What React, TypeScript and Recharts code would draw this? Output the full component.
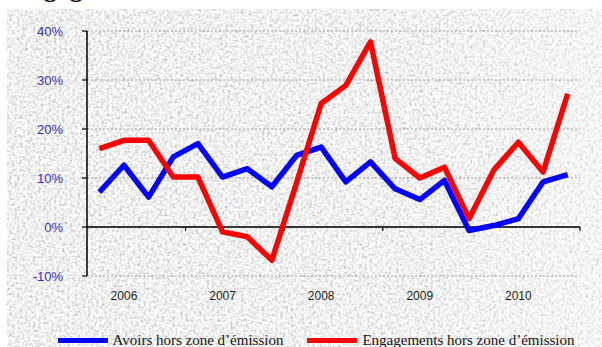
import React from 'react';
import { LineChart, Line, XAxis, YAxis, CartesianGrid, ReferenceLine, Legend } from 'recharts';

const WIDTH = 602;
const HEIGHT = 347;

// Quarterly observations, 2006 to 2010
const quarters = [
  '2006 T1', '2006 T2', '2006 T3', '2006 T4',
  '2007 T1', '2007 T2', '2007 T3', '2007 T4',
  '2008 T1', '2008 T2', '2008 T3', '2008 T4',
  '2009 T1', '2009 T2', '2009 T3', '2009 T4',
  '2010 T1', '2010 T2', '2010 T3', '2010 T4',
];
const years = ['2006', '2007', '2008', '2009', '2010'];

// Year-on-year growth rates, in %
const avoirs = [7.1, 12.6, 6.1, 14.3, 17.0, 10.2, 11.9, 8.2, 14.6, 16.3, 9.2, 13.3, 7.8, 5.6, 9.5, -0.7, 0.3, 1.7, 9.2, 10.7];
const engagements = [16.0, 17.7, 17.7, 10.2, 10.2, -1.0, -2.0, -6.8, 9.0, 25.2, 28.9, 37.8, 14.0, 10.0, 12.2, 1.7, 11.6, 17.3, 11.2, 27.2];

const yTicks = [-10, 0, 10, 20, 30, 40];

const SERIES_AVOIRS = 'Avoirs hors zone d’émission';
const SERIES_ENGAGEMENTS = 'Engagements hors zone d’émission';

const PER_YEAR = 4;

// Numeric x: quarter i sits in the middle of slot [i, i+1]
const data = quarters.map((q, i) => ({
  q,
  x: i + 0.5,
  avoirs: avoirs[i],
  engagements: engagements[i],
}));

// Year boundaries on the zero line, and year labels under the second quarter
const yearBoundaries = years.map((_, i) => (i + 1) * PER_YEAR);
const yearLabelTicks = years.map((_, i) => i * PER_YEAR + 1.5);

const LegendContent = (props: any) => {
  const payload = props.payload || [];
  return (
    <div
      style={{
        display: 'flex',
        justifyContent: 'center',
        alignItems: 'center',
        gap: 24,
        fontFamily: '"Liberation Serif", "Times New Roman", serif',
        fontSize: 15,
        color: '#151515',
        whiteSpace: 'nowrap',
      }}
    >
      {payload.map((p: any) => (
        <span key={p.value} style={{ display: 'flex', alignItems: 'center' }}>
          <span style={{ display: 'inline-block', width: 50, height: 5, background: p.color, marginRight: 5 }} />
          {p.value}
        </span>
      ))}
    </div>
  );
};

// Mottled grey paper behind the chart
const Backdrop = () => (
  <svg width={WIDTH - 7} height={HEIGHT - 9} style={{ position: 'absolute', left: 7, top: 9 }}>
    <defs>
      <filter id="grain" x="0" y="0" width="100%" height="100%">
        <feTurbulence type="fractalNoise" baseFrequency="0.38" numOctaves="3" seed="7" result="n" />
        <feColorMatrix in="n" type="saturate" values="0" result="g" />
        <feComponentTransfer>
          <feFuncR type="linear" slope="1.25" intercept="0.25" />
          <feFuncG type="linear" slope="1.25" intercept="0.25" />
          <feFuncB type="linear" slope="1.25" intercept="0.25" />
          <feFuncA type="linear" slope="0" intercept="1" />
        </feComponentTransfer>
      </filter>
      <linearGradient id="sheen" x1="0" y1="0" x2="1" y2="0">
        <stop offset="0" stopColor="#ffffff" stopOpacity="0" />
        <stop offset="0.7" stopColor="#ffffff" stopOpacity="0.08" />
        <stop offset="1" stopColor="#ffffff" stopOpacity="0.35" />
      </linearGradient>
    </defs>
    <rect width="100%" height="100%" filter="url(#grain)" />
    <rect width="100%" height="100%" fill="url(#sheen)" />
  </svg>
);

export default function App() {
  return (
    <div
      style={{
        position: 'fixed',
        left: 0,
        top: 0,
        width: WIDTH,
        height: HEIGHT,
        overflow: 'hidden',
        background: '#ffffff',
      }}
    >
      <Backdrop />
      <div
        style={{
          position: 'absolute',
          left: 12,
          top: -24,
          fontFamily: '"Liberation Serif", "Times New Roman", serif',
          fontWeight: 'bold',
          fontSize: 26,
          lineHeight: '26px',
          color: '#1a1a2a',
          whiteSpace: 'nowrap',
        }}
      >
        Engagements et avoirs hors zone d’émission
      </div>
      <div style={{ position: 'absolute', left: 0, top: 0 }}>
        <LineChart
          width={WIDTH}
          height={HEIGHT}
          data={data}
          margin={{ top: 31, right: 22, left: 0, bottom: 41 }}
        >
          <CartesianGrid vertical={false} stroke="#8c8c8c" strokeDasharray="2 2" strokeWidth={0.8} />
          <XAxis
            type="number"
            dataKey="x"
            domain={[0, quarters.length]}
            ticks={yearLabelTicks}
            interval={0}
            tickFormatter={(t: number) => years[Math.floor(t / PER_YEAR)]}
            tickLine={false}
            axisLine={false}
            tickSize={0}
            tickMargin={15}
            height={30}
            tick={{ fill: '#1e1e1e', fontSize: 12, fontFamily: '"Liberation Sans", Arial, sans-serif' }}
          />
          <YAxis
            width={87}
            domain={[-10, 40]}
            ticks={yTicks}
            interval={0}
            tickFormatter={(v: number) => `${v}%`}
            tickSize={5}
            tickMargin={19}
            axisLine={{ stroke: '#000000', strokeWidth: 1.5 }}
            tickLine={{ stroke: '#000000', strokeWidth: 1.2 }}
            tick={{ fill: '#3030c0', fontSize: 13, fontFamily: '"Liberation Sans", Arial, sans-serif' }}
          />
          <ReferenceLine y={0} stroke="#000000" strokeWidth={1.5} />
          {yearBoundaries.map((b) => (
            <ReferenceLine
              key={b}
              segment={[{ x: b, y: 0 }, { x: b, y: -0.8 }]}
              stroke="#000000"
              strokeWidth={1.2}
            />
          ))}
          <Line
            type="linear"
            dataKey="avoirs"
            name={SERIES_AVOIRS}
            stroke="#0000ff"
            strokeWidth={5.5}
            strokeLinejoin="round"
            dot={false}
            activeDot={false}
            isAnimationActive={false}
          />
          <Line
            type="linear"
            dataKey="engagements"
            name={SERIES_ENGAGEMENTS}
            stroke="#ff0000"
            strokeWidth={5.5}
            strokeLinejoin="round"
            dot={false}
            activeDot={false}
            isAnimationActive={false}
          />
          <Legend
            verticalAlign="middle"
            align="center"
            layout="horizontal"
            content={LegendContent}
            wrapperStyle={{ top: 332, left: 30, width: 572 }}
          />
        </LineChart>
      </div>
    </div>
  );
}
